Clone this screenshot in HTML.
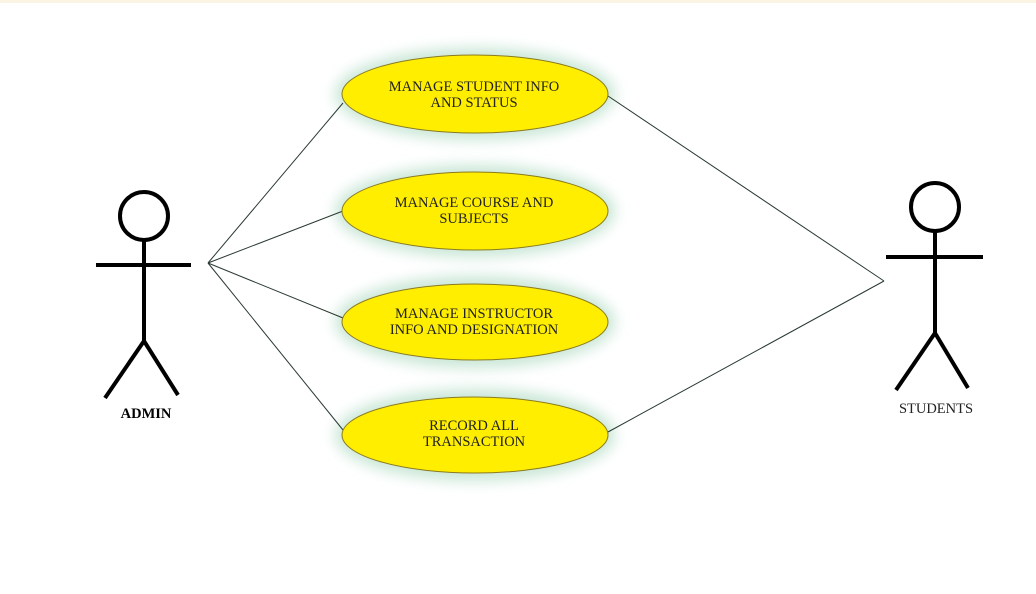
<!DOCTYPE html>
<html><head><style>
body{margin:0;width:1036px;height:589px;background:#fff;overflow:hidden}
</style></head><body>
<svg width="1036" height="589" xmlns="http://www.w3.org/2000/svg" font-family="Liberation Serif, serif">
<defs>
<filter id="g" x="-30%" y="-50%" width="160%" height="200%"><feGaussianBlur stdDeviation="7"/></filter>
</defs>
<rect x="0" y="0" width="1036" height="3" fill="#fbf3e4"/>
<g fill="#c8e6d6" filter="url(#g)">
<ellipse cx="475" cy="94" rx="140" ry="46"/>
<ellipse cx="475" cy="211" rx="140" ry="46"/>
<ellipse cx="475" cy="322" rx="140" ry="46"/>
<ellipse cx="475" cy="435" rx="140" ry="46"/>
</g>
<g stroke="#2a3a30" stroke-width="1" fill="none">
<line x1="208" y1="263" x2="343" y2="103"/>
<line x1="208" y1="263" x2="343" y2="211"/>
<line x1="208" y1="263" x2="343" y2="318"/>
<line x1="208" y1="263" x2="343" y2="430"/>
<line x1="608" y1="96" x2="884" y2="281"/>
<line x1="608" y1="432" x2="884" y2="281"/>
</g>
<g fill="#ffee00" stroke="#8a7a20" stroke-width="1">
<ellipse cx="475" cy="94" rx="133" ry="39"/>
<ellipse cx="475" cy="211" rx="133" ry="39"/>
<ellipse cx="475" cy="322" rx="133" ry="38"/>
<ellipse cx="475" cy="435" rx="133" ry="38"/>
</g>
<g font-size="14.5" fill="#222" text-anchor="middle">
<text x="474" y="91">MANAGE STUDENT INFO</text>
<text x="474" y="107">AND STATUS</text>
<text x="474" y="207">MANAGE COURSE AND</text>
<text x="474" y="223">SUBJECTS</text>
<text x="474" y="318">MANAGE INSTRUCTOR</text>
<text x="474" y="334">INFO AND DESIGNATION</text>
<text x="474" y="430">RECORD ALL</text>
<text x="474" y="446">TRANSACTION</text>
</g>
<g stroke="#000" stroke-width="4" fill="none">
<circle cx="144" cy="216" r="24"/>
<line x1="96" y1="265" x2="191" y2="265"/>
<line x1="144" y1="240" x2="144" y2="341"/>
<line x1="144" y1="341" x2="105" y2="398"/>
<line x1="144" y1="341" x2="178" y2="395"/>
<circle cx="935" cy="207" r="24"/>
<line x1="886" y1="257" x2="983" y2="257"/>
<line x1="935" y1="231" x2="935" y2="333"/>
<line x1="935" y1="333" x2="896" y2="390"/>
<line x1="935" y1="333" x2="968" y2="388"/>
</g>
<text x="146" y="418" font-size="14.5" font-weight="bold" text-anchor="middle">ADMIN</text>
<text x="936" y="413" font-size="14.5" fill="#222" text-anchor="middle">STUDENTS</text>
</svg>
</body></html>
